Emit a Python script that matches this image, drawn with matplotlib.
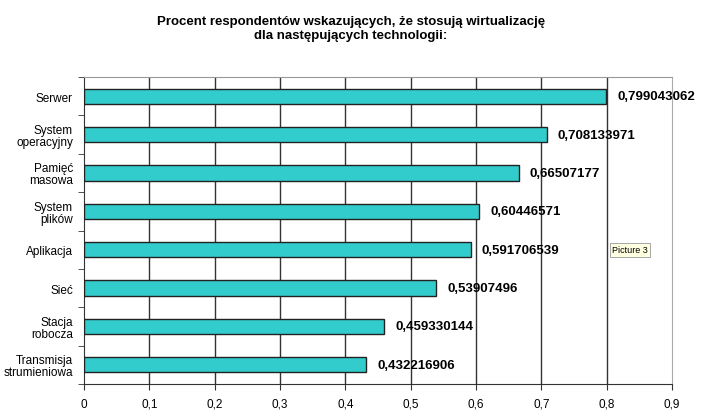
import matplotlib.pyplot as plt
import numpy as np

categories = [
    "Serwer",
    "System\noperacyjny",
    "Pamięć\nmasowa",
    "System\nplików",
    "Aplikacja",
    "Sieć",
    "Stacja\nrobocza",
    "Transmisja\nstrumieniowa",
]
values = [0.799043062, 0.708133971, 0.66507177, 0.60446571,
          0.591706539, 0.53907496, 0.459330144, 0.432216906]
value_labels = ["0,799043062", "0,708133971", "0,66507177", "0,60446571",
                "0,591706539", "0,53907496", "0,459330144", "0,432216906"]
x_ticks = [0, 0.1, 0.2, 0.3, 0.4, 0.5, 0.6, 0.7, 0.8, 0.9]
x_tick_labels = ["0", "0,1", "0,2", "0,3", "0,4", "0,5", "0,6", "0,7", "0,8", "0,9"]

plt.rcParams["font.family"] = ["Liberation Sans", "DejaVu Sans"]

fig = plt.figure(figsize=(7.02, 4.14), dpi=100)
ax = fig.add_axes([84 / 702, 1 - 385 / 414, (672 - 84) / 702, (385 - 78) / 414])

y_pos = np.arange(len(categories))
ax.barh(y_pos, values, height=0.4, color="#33CCCC", edgecolor="#222222",
        linewidth=1.0, zorder=3)
ax.set_ylim(len(categories) - 0.5, -0.5)
ax.set_xlim(0, 0.9)

for x in x_ticks[1:-1]:
    ax.axvline(x, color="#333333", linewidth=1.0, zorder=1)

ax.set_xticks(x_ticks)
ax.set_xticklabels(x_tick_labels, fontsize=8.5)
ax.set_yticks(y_pos)
ax.set_yticklabels(categories, fontsize=8.5, linespacing=1.0)
ax.set_yticks(np.arange(len(categories) + 1) - 0.5, minor=True)
ax.tick_params(axis="y", which="major", length=0, pad=8)
ax.tick_params(axis="y", which="minor", length=4, color="#333333", direction="out")
ax.tick_params(axis="x", length=4, color="#333333", direction="out", pad=6)

for spine in ["left", "bottom"]:
    ax.spines[spine].set_color("#333333")
ax.spines["top"].set_color("#999999")
ax.spines["right"].set_color("#aaaaaa")

for y, v, lab in zip(y_pos, values, value_labels):
    ax.annotate(lab, (v, y), xytext=(8, 0), textcoords="offset points",
                va="center", ha="left", fontsize=9.5, fontweight="bold", zorder=4)

fig.text(0.5, 1 - 29 / 414, "Procent respondentów wskazujących, że stosują wirtualizację\n"
         "dla następujących technologii:", ha="center", va="center",
         fontsize=9.5, fontweight="bold", linespacing=1.2)

fig.text(612 / 702, 1 - 251 / 414, "Picture 3", fontsize=6.5, va="center", ha="left",
         bbox=dict(boxstyle="square,pad=0.25", facecolor="#ffffe1", edgecolor="#999999",
                   linewidth=0.6))

fig.savefig("out.png", dpi=100)
